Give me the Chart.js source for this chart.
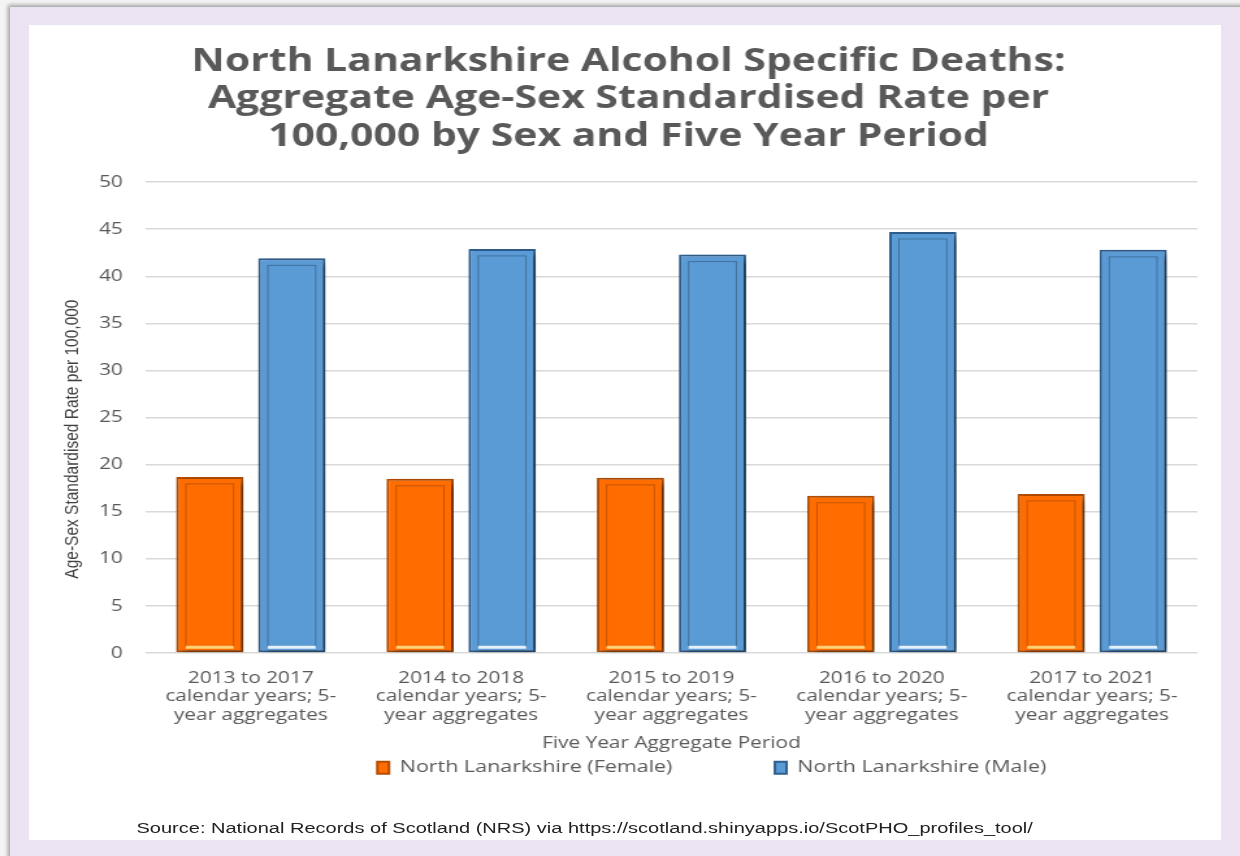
<!DOCTYPE html>
<html>
<head>
<meta charset="utf-8">
<script src="https://cdn.jsdelivr.net/npm/chart.js@4.4.1/dist/chart.umd.min.js"></script>
<style>
  html, body { margin: 0; padding: 0; background: #f4f4f4; overflow: hidden; }
  #frame {
    position: absolute; left: 10px; top: 7px; width: 1240px; height: 860px;
    background: #ebe3f1; box-shadow: -2px -2px 4px rgba(0,0,0,0.35);
  }
  #panel {
    position: absolute; left: 29px; top: 25px; width: 1192px; height: 815px;
    background: #ffffff;
  }
  /* the reference picture is stretched sideways, so the whole chart is drawn
     narrower and widened by the same factor */
  #wrap {
    position: absolute; left: 0; top: 0; width: 954px; height: 856px;
    transform: scaleX(1.3); transform-origin: 0 0;
  }
  #source {
    position: absolute; left: 105px; top: 819px;
    font-family: "Liberation Sans", sans-serif;
    font-size: 15.4px; color: #222222; white-space: nowrap;
  }
</style>
</head>
<body>
<div id="frame"></div>
<div id="panel"></div>
<div id="wrap">
  <canvas id="chart" width="954" height="856"></canvas>
  <div id="source">Source: National Records of Scotland (NRS) via https://scotland.shinyapps.io/ScotPHO_profiles_tool/</div>
</div>
<script>
// Five year aggregate periods
const periods = [
    ["2013 to 2017", "calendar years; 5-", "year aggregates"],
    ["2014 to 2018", "calendar years; 5-", "year aggregates"],
    ["2015 to 2019", "calendar years; 5-", "year aggregates"],
    ["2016 to 2020", "calendar years; 5-", "year aggregates"],
    ["2017 to 2021", "calendar years; 5-", "year aggregates"],
];
const femaleRate = [18.7, 18.5, 18.6, 16.7, 16.9];
const maleRate = [41.9, 42.9, 42.3, 44.7, 42.8];
const yTicks = [0, 5, 10, 15, 20, 25, 30, 35, 40, 45, 50];

const GREY = "#595959";

// drop shadow under the bars, then the inner bevel lines
const barEffects = {
    id: "barEffects",
    beforeDatasetsDraw(chart) {
        const ctx = chart.ctx;
        ctx.save();
        ctx.shadowColor = "rgba(0,0,0,0.5)";
        ctx.shadowBlur = 7;
        ctx.shadowOffsetX = 4;
        ctx.shadowOffsetY = 3;
    },
    afterDatasetsDraw(chart) {
        const ctx = chart.ctx;
        ctx.restore();
        chart.data.datasets.forEach((ds, i) => {
            const meta = chart.getDatasetMeta(i);
            meta.data.forEach((bar) => {
                const p = bar.getProps(["x", "y", "base", "width"], true);
                const left = p.x - p.width / 2 + 7.5;
                const right = p.x + p.width / 2 - 7.5;
                ctx.save();
                ctx.strokeStyle = ds.innerColor;
                ctx.lineWidth = 1;
                ctx.strokeRect(left, p.y + 7, right - left, p.base - p.y - 13);
                ctx.strokeStyle = ds.glowColor;
                ctx.lineWidth = 3;
                ctx.beginPath();
                ctx.moveTo(left, p.base - 5);
                ctx.lineTo(right, p.base - 5);
                ctx.stroke();
                ctx.restore();
            });
        });
    },
};

// legend sits right of centre in the reference
const legendShift = {
    id: "legendShift",
    afterLayout(chart) {
        chart.legend.left += 64;
        chart.legend.right += 64;
    },
};

new Chart(document.getElementById("chart"), {
    type: "bar",
    data: {
        labels: periods,
        datasets: [
            {
                label: "North Lanarkshire (Female)",
                data: femaleRate,
                backgroundColor: "#ff6d00",
                borderColor: "#b34d00",
                innerColor: "#c75400",
                glowColor: "#ffd27a",
                borderWidth: 2,
                borderSkipped: false,
            },
            {
                label: "North Lanarkshire (Male)",
                data: maleRate,
                backgroundColor: "#5b9bd5",
                borderColor: "#2f5f8f",
                innerColor: "#41719c",
                glowColor: "#e6f1fb",
                borderWidth: 2,
                borderSkipped: false,
            },
        ],
    },
    options: {
        responsive: false,
        animation: false,
        categoryPercentage: 0.78,
        barPercentage: 0.82,
        layout: { padding: { left: 46, right: 33, top: 30, bottom: 70 } },
        plugins: {
            title: {
                display: true,
                text: [
                    "North Lanarkshire Alcohol Specific Deaths:",
                    "Aggregate Age-Sex Standardised Rate per",
                    "100,000 by Sex and Five Year Period",
                ],
                color: GREY,
                font: { family: "Open Sans", size: 31.5, weight: "bold", lineHeight: 1.175 },
                padding: { top: 14, bottom: 27 },
            },
            legend: {
                position: "bottom",
                labels: {
                    color: GREY,
                    font: { family: "Open Sans", size: 16.5 },
                    boxWidth: 9,
                    boxHeight: 12,
                    padding: 6,
                    generateLabels(chart) {
                        const items = Chart.defaults.plugins.legend.labels.generateLabels(chart);
                        items[0].text += " ".repeat(17);
                        return items;
                    },
                },
            },
            tooltip: { enabled: false },
        },
        scales: {
            x: {
                grid: { display: false },
                border: { display: false },
                ticks: {
                    color: GREY,
                    font: { family: "Open Sans", size: 16, lineHeight: 1.15 },
                    maxRotation: 0,
                    padding: 8,
                },
                title: {
                    display: true,
                    text: "Five Year Aggregate Period",
                    color: GREY,
                    font: { family: "Open Sans", size: 16 },
                    padding: { top: 2, bottom: 0 },
                },
            },
            y: {
                min: 0,
                max: 50,
                afterBuildTicks(axis) {
                    axis.ticks = yTicks.map((v) => ({ value: v }));
                },
                afterFit(axis) {
                    axis.width = 66;
                },
                grid: { color: "#d9d9d9", lineWidth: 1.5, drawTicks: false },
                border: { display: false },
                ticks: {
                    color: GREY,
                    font: { family: "Open Sans", size: 16 },
                    padding: 17.5,
                },
                title: {
                    display: true,
                    // trailing spaces push the text a little below the axis middle, as in the reference
                    text: "Age-Sex Standardised Rate per 100,000" + " ".repeat(10),
                    color: "#404040",
                    font: { family: "Liberation Sans", size: 15.5 },
                    padding: { top: 0, bottom: 0 },
                },
            },
        },
    },
    plugins: [barEffects, legendShift],
});
</script>
</body>
</html>
